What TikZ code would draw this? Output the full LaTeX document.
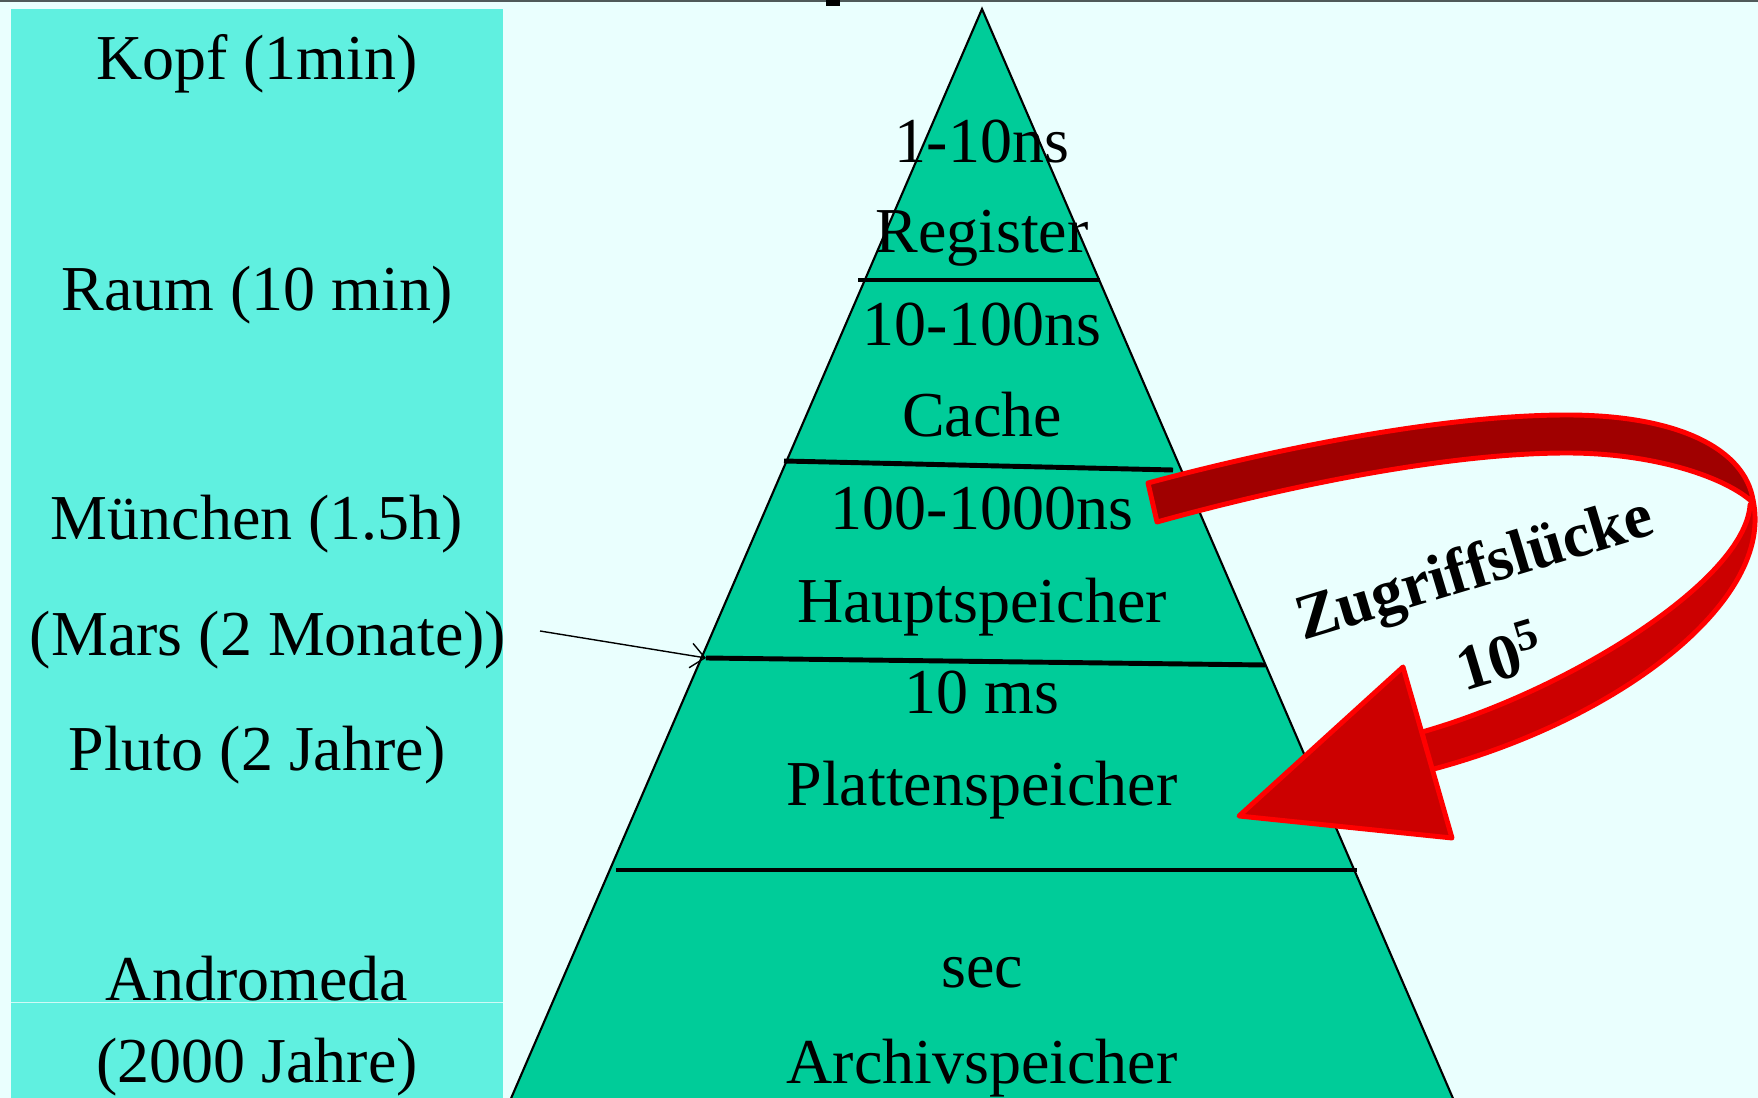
\documentclass[tikz,border=0pt]{standalone}
\usepackage{fontspec}
\setmainfont{Liberation Serif}
\usetikzlibrary{arrows.meta}
\definecolor{bgc}{RGB}{234,255,254}
\definecolor{panelc}{RGB}{96,240,224}
\definecolor{tric}{RGB}{0,204,153}
\definecolor{darkredc}{RGB}{160,0,0}
\definecolor{redc}{RGB}{204,0,0}
\definecolor{outlinec}{RGB}{255,0,0}
\definecolor{topline}{RGB}{80,90,90}
\tikzset{
  txt/.style={font=\fontsize{18.2pt}{22pt}\selectfont, inner sep=0pt, anchor=base, text=black},
  btxt/.style={font=\fontsize{18.2pt}{22pt}\selectfont\bfseries, inner sep=0pt, anchor=base, text=black},
  sepline/.style={line width=1.4pt, black},
  band/.style={draw=outlinec, line width=1.4pt, line join=round},
  thinarrow/.style={line width=0.4pt, black, -{Straight Barb[length=4pt,width=7pt]}}
}
\begin{document}
\begin{tikzpicture}[x=0.01cm,y=-0.01cm]
\useasboundingbox (0,0) rectangle (1758,1098);
\clip (0,0) rectangle (1758,1098);
\fill[bgc] (0,0) rectangle (1758,1098);
\fill[topline] (0,0) rectangle (1758,2);
\fill[black] (826,0) rectangle (840,6);
% left panel
\fill[panelc] (11,9) rectangle (503,1098);
\draw[white!70!panelc, line width=0.3pt] (11,1002.5) -- (503,1002.5);
% pyramid
\filldraw[fill=tric, draw=black, line width=0.6pt] (982,9) -- (506,1110) -- (1458,1110) -- cycle;
\coordinate (l1w) at (858,280); \coordinate (l1e) at (1100,280);
\coordinate (l2w) at (784,461); \coordinate (l2e) at (1173,470);
\coordinate (l3w) at (706,658); \coordinate (l3e) at (1265,665);
\coordinate (l4w) at (616,870); \coordinate (l4e) at (1357,870);
\draw[sepline] (l1w) -- (l1e);
\draw[sepline] (l2w) -- (l2e);
\draw[sepline] (l3w) -- (l3e);
\draw[sepline] (l4w) -- (l4e);
% pyramid texts
\node[txt] (t1) at (982,163) {1-10ns};
\node[txt] (t2) at (982,253) {Register};
\node[txt] (t3) at (982,346) {10-100ns};
\node[txt] (t4) at (982,437) {Cache};
\node[txt] (t5) at (982,530) {100-1000ns};
\node[txt] (t6) at (982,623) {Hauptspeicher};
\node[txt] (t7) at (982,714) {10 ms};
\node[txt] (t8) at (982,806) {Plattenspeicher};
\node[txt] (t9) at (982,987) {sec};
\node[txt] (t10) at (982,1083) {Archivspeicher};
% left texts
\node[txt] (kopf) at (257,80) {Kopf (1min)};
\node[txt] (raum) at (257,311) {Raum (10 min)};
\node[txt] (muen) at (257,540) {München (1.5h)};
\node[txt] (mars) at (268,656) {(Mars (2 Monate))};
\node[txt] (pluto) at (257,771) {Pluto (2 Jahre)};
\node[txt] (andro) at (257,1000) {Andromeda};
\node[txt] (andro2) at (257,1082) {(2000 Jahre)};
% thin arrow
\coordinate (arrowstart) at (540,631);
\draw[thinarrow] (arrowstart) -- (l3w);
% red curved arrow
\filldraw[band, fill=darkredc] (1148,483)
  .. controls (1290,445) and (1450,415) .. (1567,415)
  .. controls (1680,415) and (1745,450) .. (1753,500)
  -- (1750,500)
  .. controls (1720,475) and (1650,453) .. (1567,453)
  .. controls (1450,453) and (1290,485) .. (1157,522)
  -- cycle;
\filldraw[band, fill=redc] (1753,500)
  .. controls (1775,600) and (1620,720) .. (1430,770)
  -- (1422,732)
  .. controls (1570,690) and (1745,580) .. (1750,505)
  -- cycle;
\filldraw[band, fill=redc] (1403,667) -- (1239,816) -- (1452,838) -- cycle;
\node[btxt, rotate=16.8] (gap) at (1480,587) {Zugriffslücke};
\node[btxt, rotate=16.8] (gapnum) at (1507,679) {10\textsuperscript{5}};
\end{tikzpicture}
\end{document}
